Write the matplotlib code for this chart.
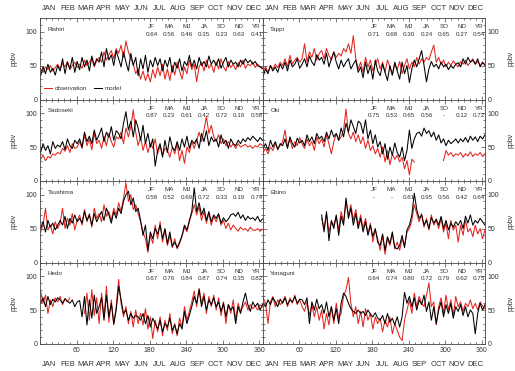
import numpy as np
import matplotlib.pyplot as plt
from matplotlib.ticker import MultipleLocator

nan = np.nan

# ---------------- data ----------------
DAYS = np.arange(1, 366, 4)   # every 4th day of the year
MONTHS = ["JAN", "FEB", "MAR", "APR", "MAY", "JUN",
          "JUL", "AUG", "SEP", "OCT", "NOV", "DEC"]
MID_MONTH = [15.5, 45, 74.5, 105, 135.5, 166, 196.5, 227.5, 258, 288.5, 319, 349.5]
SEASONS = ["JF", "MA", "MJ", "JA", "SO", "ND", "YR"]
STATIONS = ["Rishiri", "Tappi", "Sadoseki", "Oki", "Tsushima", "Ebino", "Hedo", "Yonaguni"]
CORR = [
    ["0.64", "0.56", "0.46", "0.35", "0.23", "0.63", "0.41"],
    ["0.71", "0.68", "0.30", "0.24", "0.65", "0.27", "0.54"],
    ["0.87", "0.23", "0.61", "0.42", "0.72", "0.16", "0.58"],
    ["0.75", "0.53", "0.65", "0.56", "-", "0.12", "0.72"],
    ["0.58", "0.52", "0.69", "0.72", "0.33", "0.19", "0.74"],
    ["-", "-", "0.81", "0.95", "0.56", "0.42", "0.64"],
    ["0.67", "0.76", "0.84", "0.87", "0.74", "0.35", "0.82"],
    ["0.64", "0.74", "0.80", "0.72", "0.79", "0.62", "0.75"],
]

# observation (red) / model (black), ppbv
OBS_RISHIRI = [45, 40, 48, 44, 50, 42, 47, 52, 45, 53, 48, 56, 44, 50, 55, 47,
               52, 46, 58, 50, 55, 60, 48, 57, 62, 55, 70, 58, 66, 72, 60, 75,
               68, 80, 62, 86, 70, 60, 52, 38, 45, 30, 42, 28, 38, 26, 44, 32,
               48, 35, 52, 30, 45, 28, 50, 36, 55, 42, 30, 48, 38, 58, 44, 52,
               26, 48, 55, 42, 58, 46, 52, 40, 55, 45, 60, 48, 42, 56, 47, 52,
               44, 54, 48, 58, 46, 52, 50, 55, 47, 52, 48, 45]
MOD_RISHIRI = [35, 48, 38, 52, 40, 46, 36, 50, 42, 60, 38, 55, 45, 62, 40, 56,
               44, 62, 48, 58, 42, 64, 50, 60, 55, 70, 48, 75, 58, 66, 50, 72,
               60, 48, 70, 55, 42, 68, 50, 62, 35, 60, 45, 65, 40, 58, 48, 62,
               50, 60, 42, 58, 48, 62, 40, 55, 46, 60, 42, 56, 50, 65, 48, 58,
               45, 62, 50, 56, 48, 64, 52, 58, 50, 60, 46, 55, 62, 48, 58, 52,
               55, 48, 58, 52, 60, 54, 58, 52, 56, 50, 48, 46]

OBS_TAPPI = [42, 48, 40, 50, 45, 52, 47, 55, 50, 60, 48, 65, 52, 58, 62, 55,
             60, 82, 55, 70, 62, 75, 58, 68, 72, 60, 75, 65, 58, 70, 62, 68,
             64, 75, 70, 82, 68, 94, 60, 45, 55, 40, 62, 48, 58, 42, 52, 60,
             45, 55, 40, 58, 48, 36, 52, 44, 56, 38, 50, 60, 45, 55, 48, 62,
             52, 60, 55, 62, 58, 70, 80, 55, 62, 52, 58, 48, 55, 50, 57, 52,
             48, 56, 52, 58, 50, 55, 60, 52, 56, 50, 54, 52]
MOD_TAPPI = [34, 45, 38, 50, 42, 48, 40, 52, 45, 55, 42, 58, 48, 52, 60, 46,
             52, 60, 48, 64, 55, 50, 66, 58, 62, 52, 68, 48, 60, 70, 55, 45,
             58, 48, 55, 60, 45, 52, 58, 40, 48, 32, 55, 38, 50, 30, 58, 42,
             35, 52, 40, 28, 50, 36, 55, 42, 30, 55, 38, 50, 25, 45, 58, 48,
             60, 72, 50, 26, 45, 56, 48, 52, 45, 55, 48, 52, 44, 50, 46, 52,
             54, 48, 60, 52, 62, 55, 58, 52, 60, 48, 55, 50]

OBS_SADOSEKI = [32, 38, 30, 36, 34, 40, 38, 42, 40, 48, 44, 52, 42, 55, 48, 50,
                58, 48, 68, 52, 62, 46, 70, 55, 60, 48, 66, 52, 70, 58, 50, 65,
                62, 72, 55, 78, 65, 80, 105, 72, 52, 65, 45, 58, 42, 55, 48, 62,
                40, 52, 38, 48, 45, 35, 50, 40, 55, 30, 45, 26, 50, 42, 58, 48,
                60, 72, 58, 75, 95, 70, 82, 65, 58, 68, 55, 62, 52, 58, 50, 55,
                48, 55, 50, 52, 54, 50, 52, 48, 52, 50, 55, 52]
MOD_SADOSEKI = [42, 55, 45, 52, 40, 58, 48, 53, 50, 58, 46, 62, 52, 48, 60, 55,
                62, 50, 72, 58, 66, 55, 75, 60, 68, 78, 58, 72, 64, 80, 60, 74,
                70, 62, 85, 102, 75, 88, 65, 90, 78, 60, 82, 55, 70, 50, 62, 22,
                45, 55, 35, 60, 42, 65, 50, 45, 58, 45, 62, 50, 66, 48, 60, 55,
                62, 48, 70, 58, 74, 52, 65, 58, 62, 50, 68, 55, 60, 48, 62, 55,
                52, 60, 55, 62, 58, 64, 60, 66, 62, 58, 64, 60]

OBS_OKI = [42, 48, 40, 50, 45, 55, 48, 52, 58, 75, 50, 62, 48, 58, 52, 64,
           55, 48, 62, 52, 58, 45, 65, 55, 62, 50, 68, 55, 40, 58, 70, 60,
           65, 75, 106, 70, 62, 72, 58, 68, 55, 65, 48, 60, 45, 52, 40, 48,
           35, 50, 28, 45, 24, 40, 32, 38, 28, 35, 18, 30, 9, 32, 28, nan,
           nan, nan, nan, nan, nan, nan, nan, nan, nan, nan, 30, 45, 38, 42, 36, 40,
           38, 42, 35, 40, 37, 43, 36, 40, 38, 42, 36, 40]
MOD_OKI = [48, 55, 45, 60, 50, 58, 46, 55, 52, 62, 48, 65, 55, 50, 63, 56,
           60, 52, 68, 58, 65, 55, 70, 62, 66, 58, 72, 62, 75, 65, 70, 60,
           78, 65, 85, 72, 90, 80, 70, 88, 85, 70, 90, 62, 75, 55, 68, 50,
           58, 40, 55, 32, 50, 38, 56, 42, 35, 50, 30, 45, 75, 48, 62, 70,
           72, 66, 78, 70, 74, 65, 72, 60, 68, 56, 62, 52, 60, 55, 58, 62,
           56, 62, 58, 64, 57, 66, 60, 65, 58, 66, 62, 68]

OBS_TSUSHIMA = [45, 55, 80, 48, 55, 42, 60, 50, 58, 80, 50, 65, 55, 72, 48, 62,
                70, 55, 78, 60, 72, 52, 80, 65, 72, 60, 85, 68, 75, 62, 80, 70,
                88, 75, 95, 117, 90, 100, 78, 85, 72, 60, 45, 35, 15, 40, 28, 55,
                35, 60, 30, 48, 25, 40, 22, 35, 20, 28, 38, 52, 45, 60, 72, 85,
                70, 82, 62, 75, 58, 72, 55, 68, 60, 70, 55, 62, 50, 58, 48, 55,
                50, 46, 52, 48, 50, 46, 52, 48, 47, 50, 46, 49]
MOD_TSUSHIMA = [50, 60, 45, 62, 52, 58, 48, 55, 62, 55, 68, 50, 65, 58, 70, 60,
                65, 58, 75, 62, 70, 55, 72, 60, 68, 75, 62, 80, 70, 58, 75, 65,
                80, 72, 90, 100, 105, 85, 95, 75, 80, 62, 40, 55, 18, 45, 35, 50,
                42, 55, 35, 50, 28, 45, 24, 30, 22, 30, 40, 55, 48, 62, 75, 110,
                75, 88, 70, 80, 62, 75, 60, 70, 65, 72, 58, 66, 60, 64, 70, 72,
                68, 74, 65, 70, 62, 68, 64, 66, 62, 68, 60, 64]

OBS_EBINO = [nan] * 24 + [
    65, 50, 72, 45, 60, 55, 68, 48, 75, 60, 90, 70, 85, 62, 78, 55,
    70, 50, 65, 42, 58, 30, 48, 35, 18, 40, 12, 35, 25, 42, 20, 30,
    18, 35, 25, 45, 50, 62, 85, 72, 60, 72, 52, 65, 48, 70, 55, 62,
    50, 65, 45, 58, 35, 62, 48, 55, 30, 55, 40, 62, 45, 50, 38, 55,
    42, 50, 35, 48]
MOD_EBINO = [nan] * 24 + [
    70, 45, 75, 32, 62, 50, 70, 40, 68, 55, 95, 65, 80, 55, 72, 50,
    65, 45, 60, 40, 55, 38, 50, 30, 25, 42, 18, 38, 28, 45, 22, 20,
    25, 40, 22, 48, 55, 70, 102, 78, 65, 70, 55, 62, 50, 66, 58, 64,
    55, 68, 50, 62, 48, 58, 52, 60, 55, 62, 50, 68, 58, 70, 55, 62,
    58, 65, 60, 55]

OBS_HEDO = [78, 60, 72, 45, 65, 55, 68, 62, 70, 58, 66, 62, 68, nan, nan, nan,
            nan, nan, 45, 75, 35, 80, 42, 68, 30, 75, 40, 85, 32, 65, 28, 55,
            95, 60, 40, 55, 30, 48, 25, 50, 30, 45, 28, 52, 22, 40, 8, 35,
            18, 40, 12, 35, 20, 45, 15, 30, 12, 38, 25, 55, 35, 48, 62, 78,
            55, 82, 60, 75, 45, 70, 55, 72, 50, 68, 42, 62, 30, 58, 45, 65,
            35, 60, 48, 55, 62, 50, 58, 52, 56, 50, 58, 55]
MOD_HEDO = [60, 68, 55, 70, 58, 66, 62, 68, 65, 60, 67, 63, 60, 65, 55, 62,
            64, 40, 70, 28, 65, 38, 72, 45, 55, 68, 35, 72, 40, 60, 30, 50,
            85, 65, 45, 50, 35, 45, 38, 42, 40, 35, 45, 30, 42, 25, 38, 30,
            22, 35, 18, 30, 25, 38, 20, 28, 15, 30, 22, 48, 30, 42, 55, 70,
            60, 80, 55, 70, 50, 65, 58, 68, 55, 62, 48, 60, 40, 58, 50, 55,
            30, 55, 45, 62, 75, 58, 48, 62, 55, 60, 50, 58]

OBS_YONAGUNI = [68, 60, 30, 62, 70, 55, 65, 58, 62, 70, 55, 68, 60, 72, 58, 65,
                55, 48, 62, 42, 58, 40, 55, 35, 50, 22, 45, 28, 55, 30, 60, 38,
                45, 70, 80, 98, 60, 40, 55, 30, 48, 25, 52, 35, 45, 22, 40, 30,
                38, 18, 35, 25, 40, 15, 30, 20, 10, 5, 35, 50, 65, 45, 75, 55,
                70, 60, 55, 72, 90, 55, 62, 28, 55, 68, 45, 72, 50, 65, 42, 70,
                55, 62, 48, 60, 55, 65, 52, 60, 50, 62, 56, 52]
MOD_YONAGUNI = [60, 55, 65, 58, 68, 62, 55, 66, 60, 68, 58, 65, 62, 70, 60, 66,
                65, 58, 68, 30, 62, 50, 66, 52, 58, 45, 62, 40, 55, 35, 52, 30,
                60, 75, 70, 60, 52, 48, 45, 50, 45, 48, 42, 50, 44, 40, 46, 38,
                35, 42, 30, 45, 32, 38, 28, 40, 25, 40, 76, 60, 70, 55, 68, 50,
                65, 58, 72, 48, 62, 35, 55, 30, 50, 62, 40, 58, 45, 60, 38, 55,
                48, 58, 42, 55, 40, 50, 45, 15, 45, 60, 50, 58]

OBS = [OBS_RISHIRI, OBS_TAPPI, OBS_SADOSEKI, OBS_OKI,
       OBS_TSUSHIMA, OBS_EBINO, OBS_HEDO, OBS_YONAGUNI]
MOD = [MOD_RISHIRI, MOD_TAPPI, MOD_SADOSEKI, MOD_OKI,
       MOD_TSUSHIMA, MOD_EBINO, MOD_HEDO, MOD_YONAGUNI]

# ---------------- figure ----------------
plt.rcParams['font.family'] = ['Liberation Sans', 'DejaVu Sans']
TXT = '#333333'
RED = '#e3251f'

fig = plt.figure(figsize=(5.15, 3.71), dpi=100)
W, H = 515.0, 371.0
col_left = [40.0, 262.5]
pw, ph = 222.5, 81.5
top = 18.0

for i, name in enumerate(STATIONS):
    row, col = i // 2, i % 2
    y_top = top + row * ph
    ax = fig.add_axes([col_left[col] / W, 1 - (y_top + ph) / H, pw / W, ph / H])

    ax.plot(DAYS, OBS[i], color=RED, lw=0.75, label='observation')
    ax.plot(DAYS, MOD[i], color='black', lw=0.75, label='model')

    ax.set_xlim(0, 365)
    ax.set_ylim(0, 120)
    ax.xaxis.set_major_locator(MultipleLocator(60))
    ax.xaxis.set_minor_locator(MultipleLocator(10))
    ax.yaxis.set_major_locator(MultipleLocator(50))
    ax.yaxis.set_minor_locator(MultipleLocator(10))
    ax.tick_params(which='both', direction='in', top=True, right=True,
                   width=0.5, colors='#444444', labelcolor=TXT, labelsize=5, pad=2)
    ax.tick_params(which='major', length=3)
    ax.tick_params(which='minor', length=1.6)
    for sp in ax.spines.values():
        sp.set_linewidth(0.6)
        sp.set_color('#444444')

    if col == 0:
        ax.set_ylabel('ppbv', fontsize=5, color=TXT, labelpad=6)
    else:
        ax.yaxis.tick_right()
        ax.tick_params(which='both', left=True, labelleft=False, labelright=True)
        ax.yaxis.set_label_position('right')
        ax.set_ylabel('ppbv', fontsize=5, color=TXT, labelpad=6)

    if row == 3:
        ax.set_xticks([60, 120, 180, 240, 300, 360])
        for m, d in zip(MONTHS, MID_MONTH):
            ax.text(d, -0.25, m, transform=ax.get_xaxis_transform(),
                    ha='center', va='center', fontsize=5.5, color=TXT)
    else:
        ax.tick_params(labelbottom=False)
    if row == 0:
        for m, d in zip(MONTHS, MID_MONTH):
            ax.text(d, 1.12, m, transform=ax.get_xaxis_transform(),
                    ha='center', va='center', fontsize=5.5, color=TXT)

    # station name and seasonal correlation table
    ax.text(0.035, 0.865, name, transform=ax.transAxes, fontsize=4.5,
            color=TXT, ha='left', va='center')
    for k, (s, v) in enumerate(zip(SEASONS, CORR[i])):
        xk = 0.501 + k * 0.0787
        ax.text(xk, 0.893, s, transform=ax.transAxes, fontsize=4.5,
                color=TXT, ha='center', va='center')
        ax.text(xk, 0.80, v, transform=ax.transAxes, fontsize=4.5,
                color=TXT, ha='center', va='center')

    if i == 0:
        leg = ax.legend(loc='lower left', bbox_to_anchor=(0.0, 0.06), ncol=2,
                        fontsize=4.5, frameon=False, handlelength=1.3,
                        handletextpad=0.4, columnspacing=1.2, borderaxespad=0.2)
        for t in leg.get_texts():
            t.set_color(TXT)

fig.savefig('out.png', dpi=100)
